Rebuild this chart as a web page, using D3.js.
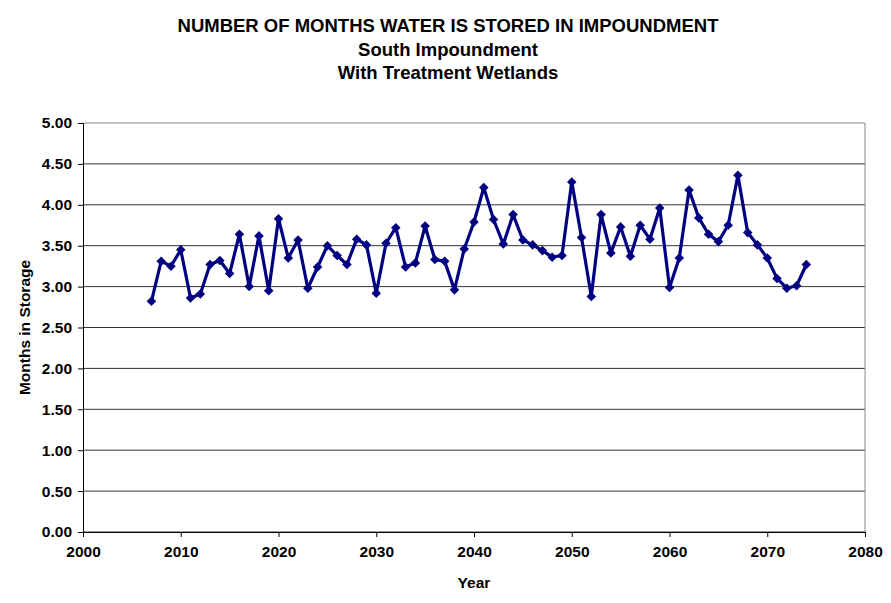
<!DOCTYPE html>
<html>
  <head>
    <script type="text/javascript" src="https://cdn.jsdelivr.net/npm/d3@7/dist/d3.min.js"></script>
    <style>
      body { margin: 0; background: #fff; }
      text { font-family: "Liberation Sans", Arial, sans-serif; font-weight: bold; fill: #000; }
    </style>
  </head>
  <body>
    <div id="viz"></div>
    <script type="text/javascript">
      const titleLines = ["NUMBER OF MONTHS WATER IS STORED IN IMPOUNDMENT", "South Impoundment", "With Treatment Wetlands"];
      const years = d3.range(2007, 2075);
      const months = [
        2.82, 3.31, 3.25, 3.45, 2.86, 2.91, 3.27, 3.32, 3.16, 3.64,
        3.00, 3.62, 2.95, 3.83, 3.35, 3.57, 2.98, 3.24, 3.50, 3.38,
        3.27, 3.58, 3.51, 2.92, 3.53, 3.72, 3.24, 3.29, 3.74, 3.33,
        3.31, 2.96, 3.46, 3.79, 4.21, 3.82, 3.52, 3.88, 3.57, 3.51,
        3.44, 3.36, 3.38, 4.28, 3.60, 2.88, 3.88, 3.41, 3.73, 3.37,
        3.75, 3.58, 3.96, 2.99, 3.35, 4.18, 3.84, 3.64, 3.55, 3.75,
        4.36, 3.66, 3.51, 3.35, 3.10, 2.98, 3.01, 3.27
      ];
      const xTicks = d3.range(2000, 2081, 10);
      const yTicks = d3.range(0, 5.01, 0.5);

      const width = 891, height = 603;
      const margin = {left: 83, right: 26, top: 123, bottom: 71};

      const svg = d3.select("#viz").append("svg")
        .attr("width", width)
        .attr("height", height);

      const x = d3.scaleLinear().domain([2000, 2080]).range([margin.left, width - margin.right]);
      const y = d3.scaleLinear().domain([0, 5]).range([height - margin.bottom, margin.top]);

      // gridlines
      svg.append("g")
        .selectAll("line")
        .data(yTicks)
        .enter().append("line")
        .attr("x1", x(2000)).attr("x2", x(2080))
        .attr("y1", d => y(d)).attr("y2", d => y(d))
        .attr("stroke", d => d == 5 ? "#888" : "#333")
        .attr("stroke-width", 1);

      // right border
      svg.append("line")
        .attr("x1", x(2080)).attr("x2", x(2080))
        .attr("y1", y(0)).attr("y2", y(5))
        .attr("stroke", "#888");

      const yAxis = svg.append("g")
        .attr("transform", "translate(" + x(2000) + ",0)")
        .call(d3.axisLeft(y).tickValues(yTicks).tickFormat(d3.format(".2f")).tickSize(5).tickPadding(6));

      const xAxis = svg.append("g")
        .attr("transform", "translate(0," + y(0) + ")")
        .call(d3.axisBottom(x).tickValues(xTicks).tickFormat(d3.format("d")).tickSize(5).tickPadding(9));

      [yAxis, xAxis].forEach(a => {
        a.selectAll("path").attr("stroke", "#000");
        a.selectAll("line").attr("stroke", "#000");
        a.selectAll("text").style("font-size", "15.5px").attr("fill", "#000");
      });

      const line = d3.line()
        .x((d, i) => x(years[i]))
        .y(d => y(d));

      svg.append("path")
        .datum(months)
        .attr("d", line)
        .attr("fill", "none")
        .attr("stroke", "#000080")
        .attr("stroke-width", 3.2)
        .attr("stroke-linejoin", "round");

      svg.append("g")
        .selectAll("path")
        .data(months)
        .enter().append("path")
        .attr("d", d3.symbol().type(d3.symbolDiamond2).size(58))
        .attr("transform", (d, i) => "translate(" + x(years[i]) + "," + y(d) + ")")
        .attr("fill", "#000080");

      svg.append("g")
        .selectAll("text")
        .data(titleLines)
        .enter().append("text")
        .attr("x", 448)
        .attr("y", (d, i) => 32 + i * 23.5)
        .attr("text-anchor", "middle")
        .style("font-size", "18.5px")
        .text(d => d);

      svg.append("text")
        .attr("x", x(2040))
        .attr("y", 588)
        .attr("text-anchor", "middle")
        .style("font-size", "15.5px")
        .text("Year");

      svg.append("text")
        .attr("transform", "translate(30," + y(2.5) + ") rotate(-90)")
        .attr("text-anchor", "middle")
        .style("font-size", "15.5px")
        .text("Months in Storage");
    </script>
  </body>
</html>
